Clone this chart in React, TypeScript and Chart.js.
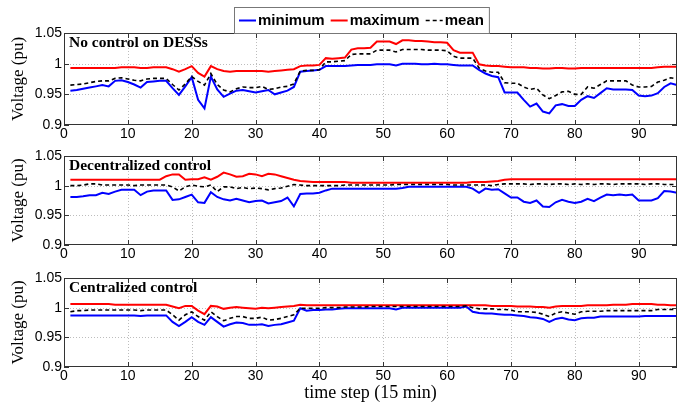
import React, { useEffect, useRef } from 'react';
import { Chart, registerables } from 'chart.js';

Chart.register(...registerables);

// ---------- data ----------
const timeSteps = Array.from({ length: 96 }, (_, i) => i + 1);
const xTicks = [0, 10, 20, 30, 40, 50, 60, 70, 80, 90];
const yTicks = [0.9, 0.95, 1, 1.05];
const seriesNames = ['minimum', 'maximum', 'mean'];
const panelTitles = ['No control on DESSs', 'Decentralized control', 'Centralized control'];
const yAxisTitle = 'Voltage (pu)';
const xAxisTitle = 'time step (15 min)';

// Panel 1: no control on DESSs
const noCtrlMin = [
  0.956, 0.957, 0.959, 0.961, 0.963, 0.965, 0.963, 0.972, 0.973, 0.970, 0.966, 0.961, 0.970, 0.971, 0.972, 0.972,
  0.960, 0.949, 0.963, 0.978, 0.941, 0.927, 0.979, 0.958,
  0.946, 0.951, 0.956, 0.957, 0.955, 0.953, 0.955, 0.957, 0.950, 0.953, 0.956, 0.962, 0.987, 0.988, 0.989, 0.990,
  0.996, 0.996, 0.996, 0.996, 0.997, 0.998, 0.998, 0.998, 0.999, 0.999, 0.999, 0.997, 1.000, 1.000, 1.000, 0.999,
  0.999, 1.000, 0.999, 0.999, 0.998, 0.997, 0.997, 0.997, 0.990, 0.984, 0.980, 0.978, 0.953, 0.953, 0.953, 0.941,
  0.930, 0.935, 0.922, 0.919, 0.932, 0.934, 0.931, 0.931, 0.941, 0.947, 0.944, 0.952, 0.960, 0.958, 0.958, 0.958,
  0.957, 0.948, 0.947, 0.948, 0.952, 0.962, 0.968, 0.965,
];
const noCtrlMax = [
  0.993, 0.993, 0.993, 0.993, 0.993, 0.993, 0.993, 0.993, 0.994, 0.994, 0.994, 0.993, 0.993, 0.994, 0.994, 0.994,
  0.991, 0.987, 0.991, 0.996, 0.985, 0.979, 0.996, 0.991,
  0.988, 0.987, 0.988, 0.988, 0.988, 0.988, 0.988, 0.987, 0.988, 0.989, 0.990, 0.991, 0.996, 0.997, 0.997, 0.998,
  1.009, 1.008, 1.009, 1.010, 1.023, 1.025, 1.025, 1.026, 1.036, 1.036, 1.036, 1.032, 1.038, 1.038, 1.037, 1.037,
  1.036, 1.035, 1.035, 1.034, 1.022, 1.018, 1.018, 1.018, 0.999, 0.997, 0.996, 0.996, 0.995, 0.994, 0.994, 0.994,
  0.993, 0.993, 0.992, 0.992, 0.993, 0.993, 0.992, 0.992, 0.993, 0.993, 0.993, 0.993, 0.993, 0.993, 0.993, 0.993,
  0.993, 0.993, 0.993, 0.993, 0.994, 0.995, 0.995, 0.995,
];
const noCtrlMean = [
  0.965, 0.966, 0.967, 0.969, 0.971, 0.972, 0.972, 0.976, 0.977, 0.975, 0.973, 0.972, 0.975, 0.976, 0.976, 0.976,
  0.966, 0.957, 0.967, 0.979, 0.971, 0.965, 0.984, 0.966,
  0.957, 0.954, 0.959, 0.962, 0.961, 0.961, 0.963, 0.958, 0.959, 0.962, 0.963, 0.967, 0.988, 0.989, 0.989, 0.990,
  1.003, 1.003, 1.004, 1.005, 1.015, 1.016, 1.016, 1.016, 1.022, 1.022, 1.022, 1.019, 1.023, 1.023, 1.023, 1.023,
  1.022, 1.022, 1.022, 1.021, 1.012, 1.009, 1.009, 1.009, 0.993, 0.988, 0.986, 0.986, 0.969, 0.968, 0.968, 0.962,
  0.958, 0.960, 0.949, 0.943, 0.948, 0.954, 0.955, 0.950, 0.950, 0.962, 0.960, 0.966, 0.972, 0.972, 0.972, 0.972,
  0.965, 0.962, 0.962, 0.963, 0.970, 0.973, 0.977, 0.975,
];

// Panel 2: decentralized control
const decMin = [
  0.981, 0.981, 0.982, 0.984, 0.984, 0.988, 0.986, 0.990, 0.993, 0.993, 0.993, 0.984, 0.990, 0.992, 0.992, 0.992,
  0.976, 0.977, 0.981, 0.985, 0.972, 0.971, 0.989, 0.981,
  0.977, 0.975, 0.978, 0.975, 0.972, 0.974, 0.975, 0.970, 0.972, 0.974, 0.980, 0.965, 0.986, 0.987, 0.987, 0.988,
  0.992, 0.995, 0.995, 0.995, 0.995, 0.995, 0.995, 0.995, 0.995, 0.995, 0.995, 0.995, 0.996, 0.998, 0.998, 0.998,
  0.998, 0.998, 0.998, 0.998, 0.998, 0.998, 0.998, 0.995, 0.988, 0.995, 0.993, 0.994, 0.987, 0.980, 0.980, 0.973,
  0.971, 0.975, 0.965, 0.964, 0.972, 0.976, 0.973, 0.971, 0.973, 0.978, 0.974, 0.980, 0.985, 0.984, 0.985, 0.984,
  0.985, 0.975, 0.975, 0.975, 0.979, 0.991, 0.990, 0.988,
];
const decMax = [
  1.010, 1.010, 1.010, 1.010, 1.010, 1.010, 1.010, 1.010, 1.010, 1.010, 1.010, 1.010, 1.010, 1.010, 1.010, 1.016,
  1.019, 1.019, 1.010, 1.011, 1.011, 1.014, 1.010, 1.015,
  1.022, 1.019, 1.015, 1.016, 1.020, 1.019, 1.016, 1.020, 1.019, 1.016, 1.013, 1.010, 1.008, 1.007, 1.006, 1.006,
  1.006, 1.006, 1.006, 1.006, 1.005, 1.005, 1.005, 1.005, 1.005, 1.005, 1.005, 1.005, 1.005, 1.005, 1.005, 1.005,
  1.005, 1.005, 1.005, 1.005, 1.005, 1.005, 1.005, 1.006, 1.006, 1.006, 1.007, 1.008, 1.010, 1.011, 1.011, 1.011,
  1.011, 1.011, 1.011, 1.011, 1.011, 1.011, 1.011, 1.011, 1.011, 1.011, 1.011, 1.011, 1.011, 1.011, 1.011, 1.011,
  1.011, 1.011, 1.011, 1.011, 1.011, 1.011, 1.011, 1.011,
];
const decMean = [
  1.000, 1.000, 1.001, 1.003, 1.003, 1.001, 1.001, 1.001, 1.001, 1.001, 1.000, 1.001, 1.001, 1.001, 1.001, 1.001,
  0.998, 0.991, 0.998, 1.001, 0.999, 0.998, 1.001, 0.990,
  0.998, 0.998, 0.995, 0.997, 0.995, 0.996, 0.995, 0.993, 0.995, 0.996, 0.999, 1.002, 1.001, 1.000, 1.000, 1.000,
  1.000, 1.000, 1.000, 1.001, 1.001, 1.001, 1.001, 1.001, 1.001, 1.001, 1.001, 1.002, 1.002, 1.002, 1.002, 1.002,
  1.002, 1.002, 1.002, 1.002, 1.001, 1.001, 1.001, 1.001, 1.001, 1.001, 1.000, 1.002, 1.003, 1.003, 1.003, 1.003,
  1.002, 1.003, 1.003, 1.002, 1.003, 1.003, 1.002, 1.003, 1.002, 1.003, 1.002, 1.003, 1.003, 1.002, 1.003, 1.003,
  1.003, 1.003, 1.002, 1.003, 1.003, 1.002, 1.002, 1.002,
];

// Panel 3: centralized control
const cenMin = [
  0.987, 0.987, 0.987, 0.987, 0.987, 0.987, 0.987, 0.987, 0.987, 0.987, 0.987, 0.986, 0.987, 0.987, 0.987, 0.987,
  0.976, 0.969, 0.976, 0.984, 0.976, 0.971, 0.984, 0.976,
  0.968, 0.972, 0.975, 0.974, 0.971, 0.971, 0.972, 0.969, 0.971, 0.972, 0.975, 0.978, 0.999, 0.995, 0.996, 0.996,
  0.997, 0.997, 0.998, 0.999, 0.999, 0.999, 0.999, 0.999, 0.999, 0.999, 0.999, 0.997, 1.000, 1.000, 1.000, 1.000,
  1.000, 1.000, 1.000, 1.000, 1.000, 1.000, 1.002, 0.993, 0.991, 0.990, 0.990, 0.989, 0.988, 0.988, 0.987, 0.986,
  0.984, 0.983, 0.981, 0.976, 0.981, 0.983, 0.980, 0.979, 0.982, 0.983, 0.983, 0.985, 0.985, 0.985, 0.985, 0.985,
  0.985, 0.985, 0.986, 0.986, 0.986, 0.986, 0.986, 0.986,
];
const cenMax = [
  1.006, 1.006, 1.006, 1.006, 1.006, 1.006, 1.006, 1.005, 1.005, 1.005, 1.005, 1.005, 1.005, 1.005, 1.005, 1.005,
  1.002, 0.999, 1.003, 1.003, 0.995, 0.989, 1.003, 1.002,
  0.998, 1.000, 1.001, 1.000, 0.999, 0.998, 1.000, 0.999, 1.000, 1.001, 1.002, 1.003, 1.005, 1.004, 1.004, 1.004,
  1.004, 1.004, 1.004, 1.004, 1.004, 1.004, 1.004, 1.004, 1.004, 1.004, 1.004, 1.004, 1.004, 1.004, 1.004, 1.004,
  1.004, 1.004, 1.004, 1.004, 1.004, 1.004, 1.004, 1.004, 1.004, 1.004, 1.003, 1.003, 1.003, 1.003, 1.002, 1.002,
  1.002, 1.001, 1.001, 1.000, 1.002, 1.003, 1.003, 1.003, 1.003, 1.004, 1.004, 1.004, 1.004, 1.005, 1.005, 1.005,
  1.006, 1.006, 1.006, 1.006, 1.005, 1.005, 1.004, 1.004,
];
const cenMean = [
  0.993, 0.995, 0.995, 0.996, 0.996, 0.996, 0.996, 0.996, 0.996, 0.996, 0.996, 0.995, 0.996, 0.996, 0.996, 0.996,
  0.988, 0.979, 0.988, 0.993, 0.985, 0.979, 0.993, 0.985,
  0.978, 0.982, 0.985, 0.985, 0.982, 0.982, 0.984, 0.979, 0.980, 0.982, 0.985, 0.988, 0.999, 0.999, 0.999, 0.999,
  1.000, 1.000, 1.000, 1.001, 1.001, 1.001, 1.001, 1.002, 1.002, 1.002, 1.002, 1.002, 1.002, 1.002, 1.002, 1.002,
  1.002, 1.002, 1.002, 1.002, 1.002, 1.002, 1.003, 1.000, 0.998, 0.998, 0.998, 0.997, 0.997, 0.996, 0.993, 0.993,
  0.993, 0.992, 0.989, 0.985, 0.991, 0.993, 0.991, 0.989, 0.993, 0.994, 0.994, 0.994, 0.995, 0.995, 0.995, 0.995,
  0.995, 0.995, 0.995, 0.995, 0.997, 0.997, 0.997, 0.997,
];

const panelSeries = [
  [noCtrlMin, noCtrlMax, noCtrlMean],
  [decMin, decMax, decMean],
  [cenMin, cenMax, cenMean],
];

// ---------- layout / styling ----------
const W = 678;
const panelLayouts = [
  { top: 0, height: 145, padTop: 33, xHeight: 20, legend: true, xTitle: false },
  { top: 145, height: 120, padTop: 11, xHeight: 20, legend: false, xTitle: false },
  { top: 265, height: 140, padTop: 13, xHeight: 38, legend: false, xTitle: true },
];
const seriesStyles = [
  { color: '#0000ff', width: 2, dash: [] as number[], order: 2 },
  { color: '#ff0000', width: 2, dash: [] as number[], order: 1 },
  { color: '#000000', width: 1.6, dash: [4, 3], order: 0 },
];
const SANS = '"Liberation Sans", Arial, Helvetica, sans-serif';
const SERIF = '"Liberation Serif", "Times New Roman", Times, serif';

const matlabAxes = {
  id: 'matlabAxes',
  beforeDatasetsDraw(chart: any) {
    const { ctx, chartArea: a, scales } = chart;
    const xs = scales.x;
    const ys = scales.y;
    ctx.save();
    ctx.strokeStyle = '#bdbdbd';
    ctx.lineWidth = 1;
    ctx.setLineDash([1, 2]);
    ctx.beginPath();
    xs.ticks.forEach((t: any) => {
      const px = Math.round(xs.getPixelForValue(t.value)) + 0.5;
      if (px > a.left + 2 && px < a.right - 2) {
        ctx.moveTo(px, a.top);
        ctx.lineTo(px, a.bottom);
      }
    });
    ys.ticks.forEach((t: any) => {
      const py = Math.round(ys.getPixelForValue(t.value)) + 0.5;
      if (py > a.top + 2 && py < a.bottom - 2) {
        ctx.moveTo(a.left, py);
        ctx.lineTo(a.right, py);
      }
    });
    ctx.stroke();
    ctx.restore();
  },
  afterDatasetsDraw(chart: any, _args: any, opts: any) {
    const { ctx, chartArea: a, scales } = chart;
    const xs = scales.x;
    const ys = scales.y;
    ctx.save();
    ctx.setLineDash([]);
    ctx.strokeStyle = '#333';
    ctx.lineWidth = 1;
    ctx.strokeRect(a.left + 0.5, a.top + 0.5, a.right - a.left - 1, a.bottom - a.top - 1);
    const tl = 5;
    ctx.beginPath();
    xs.ticks.forEach((t: any) => {
      const px = Math.round(xs.getPixelForValue(t.value)) + 0.5;
      ctx.moveTo(px, a.top);
      ctx.lineTo(px, a.top + tl);
      ctx.moveTo(px, a.bottom);
      ctx.lineTo(px, a.bottom - tl);
    });
    ys.ticks.forEach((t: any) => {
      const py = Math.round(ys.getPixelForValue(t.value)) + 0.5;
      ctx.moveTo(a.left, py);
      ctx.lineTo(a.left + tl, py);
      ctx.moveTo(a.right, py);
      ctx.lineTo(a.right - tl, py);
    });
    ctx.stroke();
    // panel title
    ctx.fillStyle = '#000';
    ctx.font = `bold 15.5px ${SERIF}`;
    ctx.textBaseline = 'alphabetic';
    ctx.textAlign = 'left';
    ctx.fillText(opts.title, a.left + 5, a.top + 14);
    ctx.restore();
  },
  afterDraw(chart: any, _args: any, opts: any) {
    if (!opts.legend) return;
    const { ctx } = chart;
    const ds = chart.data.datasets;
    ctx.save();
    ctx.font = `bold 15px ${SANS}`;
    const lineLen = 17;
    const gap = 2;
    const sep = 6;
    const pad = 5;
    const widths = ds.map((d: any) => lineLen + gap + ctx.measureText(d.label).width);
    const total = pad * 2 + widths.reduce((s: number, w: number) => s + w, 0) + sep * (ds.length - 1);
    const left = 234;
    const top = 7;
    const h = 26;
    ctx.fillStyle = '#fff';
    ctx.fillRect(left, top, total, h);
    ctx.strokeStyle = '#777';
    ctx.lineWidth = 1;
    ctx.strokeRect(left + 0.5, top + 0.5, total, h);
    let x = left + pad;
    const cy = top + h / 2 + 0.5;
    ds.forEach((d: any, i: number) => {
      ctx.strokeStyle = d.borderColor;
      ctx.lineWidth = d.borderWidth;
      ctx.setLineDash(d.borderDash || []);
      ctx.beginPath();
      ctx.moveTo(x, cy);
      ctx.lineTo(x + lineLen, cy);
      ctx.stroke();
      ctx.setLineDash([]);
      ctx.fillStyle = '#000';
      ctx.textBaseline = 'middle';
      ctx.textAlign = 'left';
      ctx.fillText(d.label, x + lineLen + gap, cy);
      x += widths[i] + sep;
    });
    ctx.restore();
  },
};

function VoltagePanel({ index }: { index: number }) {
  const ref = useRef<HTMLCanvasElement | null>(null);
  const lay = panelLayouts[index];
  useEffect(() => {
    if (!ref.current) return;
    const series = panelSeries[index];
    const chart = new Chart(ref.current, {
      type: 'line',
      data: {
        labels: timeSteps,
        datasets: series.map((vals, i) => ({
          label: seriesNames[i],
          data: vals,
          borderColor: seriesStyles[i].color,
          backgroundColor: seriesStyles[i].color,
          borderWidth: seriesStyles[i].width,
          borderDash: seriesStyles[i].dash,
          order: seriesStyles[i].order,
          pointRadius: 0,
          tension: 0,
          fill: false,
        })),
      },
      options: {
        responsive: false,
        maintainAspectRatio: false,
        animation: false,
        events: [],
        layout: { padding: { top: lay.padTop, right: 1, left: 0, bottom: 0 } },
        plugins: {
          legend: { display: false },
          tooltip: { enabled: false },
          matlabAxes: { title: panelTitles[index], legend: lay.legend },
        } as any,
        scales: {
          x: {
            type: 'linear',
            min: 0,
            max: 96,
            grid: { display: false, drawTicks: false },
            border: { display: false },
            afterBuildTicks: (s: any) => {
              s.ticks = xTicks.map((v) => ({ value: v }));
            },
            afterFit: (s: any) => {
              s.height = lay.xHeight;
            },
            ticks: {
              padding: 1,
              color: '#000',
              maxRotation: 0,
              autoSkip: false,
              font: { family: SANS, size: 14 },
            },
            title: {
              display: lay.xTitle,
              text: xAxisTitle,
              color: '#000',
              font: { family: SERIF, size: 18 },
              padding: { top: 0, bottom: 1 },
            },
          },
          y: {
            type: 'linear',
            min: 0.9,
            max: 1.05,
            grid: { display: false, drawTicks: false },
            border: { display: false },
            afterBuildTicks: (s: any) => {
              s.ticks = yTicks.map((v) => ({ value: v }));
            },
            afterFit: (s: any) => {
              s.width = 64;
            },
            ticks: {
              padding: 2,
              color: '#000',
              font: { family: SANS, size: 14 },
              callback: (v: any) => String(Number(Number(v).toFixed(2))),
            },
            title: {
              display: true,
              text: yAxisTitle,
              color: '#000',
              font: { family: SERIF, size: 17 },
              padding: { top: 8, bottom: 0 },
            },
          },
        },
      },
      plugins: [matlabAxes as any],
    });
    return () => chart.destroy();
  }, [index]);
  return (
    <canvas
      ref={ref}
      width={W}
      height={lay.height}
      style={{ position: 'absolute', left: 0, top: lay.top, display: 'block', width: W, height: lay.height }}
    />
  );
}

export default function App() {
  return (
    <div
      style={{
        position: 'absolute',
        left: 0,
        top: 0,
        width: W,
        height: 405,
        background: '#fff',
        overflow: 'hidden',
      }}
    >
      {panelLayouts.map((_, i) => (
        <VoltagePanel key={i} index={i} />
      ))}
    </div>
  );
}
